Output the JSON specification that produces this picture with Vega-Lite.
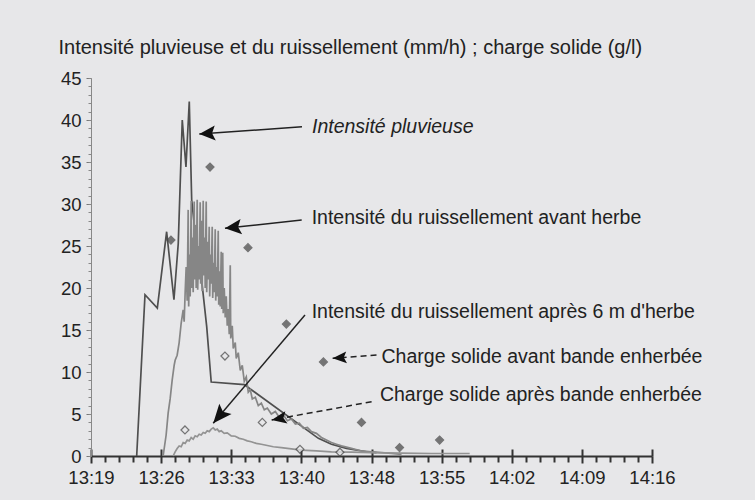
{
  "$schema": "https://vega.github.io/schema/vega-lite/v6.json",
  "width": 561,
  "height": 378,
  "autosize": "none",
  "padding": {"left": 91, "top": 78, "right": 103, "bottom": 44},
  "background": "#e7e7e9",
  "config": {
    "view": {"stroke": null},
    "font": "Liberation Sans",
    "axis": {"grid": false, "labelFont": "Liberation Sans", "titleFont": "Liberation Sans", "labelColor": "#222222", "titleColor": "#222222"}
  },
  "datasets": {
    "series": [
      {"t": 4.56, "v": 0, "s": "pluie"},
      {"t": 5.39, "v": 19.2, "s": "pluie"},
      {"t": 6.62, "v": 17.6, "s": "pluie"},
      {"t": 7.55, "v": 26.7, "s": "pluie"},
      {"t": 8.28, "v": 18.6, "s": "pluie"},
      {"t": 8.71, "v": 25.3, "s": "pluie"},
      {"t": 9.11, "v": 40.0, "s": "pluie"},
      {"t": 9.48, "v": 34.4, "s": "pluie"},
      {"t": 9.81, "v": 42.2, "s": "pluie"},
      {"t": 10.05, "v": 30.5, "s": "pluie"},
      {"t": 10.4, "v": 26.5, "s": "pluie"},
      {"t": 10.9, "v": 22.5, "s": "pluie"},
      {"t": 11.55, "v": 15.4, "s": "pluie"},
      {"t": 12.0, "v": 8.8, "s": "pluie"},
      {"t": 15.3, "v": 8.5, "s": "pluie"},
      {"t": 22.7, "v": 2.1, "s": "pluie"},
      {"t": 24.0, "v": 1.4, "s": "pluie"},
      {"t": 25.5, "v": 0.9, "s": "pluie"},
      {"t": 27.8, "v": 0.45, "s": "pluie"},
      {"t": 28.5, "v": 0.4, "s": "pluie"},

      {"t": 7.2, "v": 0, "s": "avant"},
      {"t": 7.5, "v": 2.5, "s": "avant"},
      {"t": 7.7, "v": 5.1, "s": "avant"},
      {"t": 7.9, "v": 6.8, "s": "avant"},
      {"t": 8.1, "v": 9.0, "s": "avant"},
      {"t": 8.3, "v": 10.8, "s": "avant"},
      {"t": 8.4, "v": 11.4, "s": "avant"},
      {"t": 8.6, "v": 12.0, "s": "avant"},
      {"t": 8.8, "v": 13.5, "s": "avant"},
      {"t": 9.0, "v": 15.8, "s": "avant"},
      {"t": 9.2, "v": 17.4, "s": "avant"},
      {"t": 9.3, "v": 16.0, "s": "avant"},
      {"t": 9.4, "v": 19.5, "s": "avant"},
      {"t": 9.5, "v": 22.5, "s": "avant"},
      {"t": 9.6, "v": 18.5, "s": "avant"},
      {"t": 9.7, "v": 29.3, "s": "avant"},
      {"t": 9.75, "v": 17.8, "s": "avant"},
      {"t": 9.85, "v": 24.0, "s": "avant"},
      {"t": 9.9, "v": 19.0, "s": "avant"},
      {"t": 10.0, "v": 30.4, "s": "avant"},
      {"t": 10.05, "v": 20.0, "s": "avant"},
      {"t": 10.15, "v": 26.0, "s": "avant"},
      {"t": 10.2, "v": 19.5, "s": "avant"},
      {"t": 10.3, "v": 30.3, "s": "avant"},
      {"t": 10.35, "v": 21.0, "s": "avant"},
      {"t": 10.45, "v": 27.5, "s": "avant"},
      {"t": 10.5, "v": 20.0, "s": "avant"},
      {"t": 10.6, "v": 30.5, "s": "avant"},
      {"t": 10.65, "v": 19.8, "s": "avant"},
      {"t": 10.75, "v": 25.0, "s": "avant"},
      {"t": 10.8, "v": 21.0, "s": "avant"},
      {"t": 10.9, "v": 30.2, "s": "avant"},
      {"t": 10.95, "v": 20.5, "s": "avant"},
      {"t": 11.05, "v": 28.0, "s": "avant"},
      {"t": 11.1, "v": 19.6, "s": "avant"},
      {"t": 11.2, "v": 30.4, "s": "avant"},
      {"t": 11.25, "v": 21.5, "s": "avant"},
      {"t": 11.35, "v": 26.0, "s": "avant"},
      {"t": 11.4, "v": 20.0, "s": "avant"},
      {"t": 11.5, "v": 30.3, "s": "avant"},
      {"t": 11.55, "v": 19.5, "s": "avant"},
      {"t": 11.65, "v": 25.5, "s": "avant"},
      {"t": 11.7, "v": 21.0, "s": "avant"},
      {"t": 11.8, "v": 27.3, "s": "avant"},
      {"t": 11.85, "v": 19.0, "s": "avant"},
      {"t": 11.95, "v": 24.0, "s": "avant"},
      {"t": 12.0, "v": 20.5, "s": "avant"},
      {"t": 12.1, "v": 27.3, "s": "avant"},
      {"t": 12.15, "v": 18.8, "s": "avant"},
      {"t": 12.25, "v": 23.0, "s": "avant"},
      {"t": 12.3, "v": 19.5, "s": "avant"},
      {"t": 12.4, "v": 27.0, "s": "avant"},
      {"t": 12.45, "v": 18.5, "s": "avant"},
      {"t": 12.55, "v": 22.5, "s": "avant"},
      {"t": 12.6, "v": 19.0, "s": "avant"},
      {"t": 12.7, "v": 26.8, "s": "avant"},
      {"t": 12.75, "v": 18.0, "s": "avant"},
      {"t": 12.85, "v": 22.0, "s": "avant"},
      {"t": 12.9, "v": 17.8, "s": "avant"},
      {"t": 13.0, "v": 24.3, "s": "avant"},
      {"t": 13.05, "v": 17.5, "s": "avant"},
      {"t": 13.15, "v": 24.2, "s": "avant"},
      {"t": 13.2, "v": 17.0, "s": "avant"},
      {"t": 13.3, "v": 20.0, "s": "avant"},
      {"t": 13.4, "v": 16.5, "s": "avant"},
      {"t": 13.5, "v": 19.0, "s": "avant"},
      {"t": 13.6, "v": 15.5, "s": "avant"},
      {"t": 13.7, "v": 17.5, "s": "avant"},
      {"t": 13.8, "v": 14.5, "s": "avant"},
      {"t": 13.9, "v": 22.7, "s": "avant"},
      {"t": 13.95, "v": 14.0, "s": "avant"},
      {"t": 14.1, "v": 15.5, "s": "avant"},
      {"t": 14.2, "v": 12.8, "s": "avant"},
      {"t": 14.4, "v": 13.5, "s": "avant"},
      {"t": 14.5, "v": 11.6, "s": "avant"},
      {"t": 14.7, "v": 12.3, "s": "avant"},
      {"t": 14.9, "v": 10.2, "s": "avant"},
      {"t": 15.1, "v": 10.8, "s": "avant"},
      {"t": 15.3, "v": 8.9, "s": "avant"},
      {"t": 15.5, "v": 9.4, "s": "avant"},
      {"t": 15.7, "v": 7.6, "s": "avant"},
      {"t": 15.9, "v": 7.9, "s": "avant"},
      {"t": 16.1, "v": 6.8, "s": "avant"},
      {"t": 16.4, "v": 7.0, "s": "avant"},
      {"t": 16.7, "v": 6.0, "s": "avant"},
      {"t": 17.0, "v": 6.3, "s": "avant"},
      {"t": 17.3, "v": 5.5, "s": "avant"},
      {"t": 17.6, "v": 5.7, "s": "avant"},
      {"t": 18.0, "v": 5.0, "s": "avant"},
      {"t": 18.4, "v": 5.3, "s": "avant"},
      {"t": 18.8, "v": 4.6, "s": "avant"},
      {"t": 19.2, "v": 4.9, "s": "avant"},
      {"t": 19.6, "v": 4.2, "s": "avant"},
      {"t": 20.0, "v": 4.4, "s": "avant"},
      {"t": 20.4, "v": 3.8, "s": "avant"},
      {"t": 20.8, "v": 3.9, "s": "avant"},
      {"t": 21.2, "v": 3.3, "s": "avant"},
      {"t": 21.6, "v": 3.4, "s": "avant"},
      {"t": 22.0, "v": 2.9, "s": "avant"},
      {"t": 22.5, "v": 2.7, "s": "avant"},
      {"t": 23.0, "v": 2.2, "s": "avant"},
      {"t": 23.5, "v": 1.9, "s": "avant"},
      {"t": 24.0, "v": 1.6, "s": "avant"},
      {"t": 24.5, "v": 1.4, "s": "avant"},
      {"t": 25.0, "v": 1.2, "s": "avant"},
      {"t": 26.0, "v": 0.9, "s": "avant"},
      {"t": 27.0, "v": 0.6, "s": "avant"},
      {"t": 28.0, "v": 0.5, "s": "avant"},
      {"t": 29.0, "v": 0.4, "s": "avant"},
      {"t": 30.0, "v": 0.3, "s": "avant"},
      {"t": 31.0, "v": 0.2, "s": "avant"},

      {"t": 8.2, "v": 0, "s": "apres"},
      {"t": 8.4, "v": 0.5, "s": "apres"},
      {"t": 8.6, "v": 0.9, "s": "apres"},
      {"t": 8.8, "v": 1.2, "s": "apres"},
      {"t": 9.0, "v": 1.1, "s": "apres"},
      {"t": 9.2, "v": 1.6, "s": "apres"},
      {"t": 9.4, "v": 1.5, "s": "apres"},
      {"t": 9.6, "v": 1.9, "s": "apres"},
      {"t": 9.8, "v": 1.8, "s": "apres"},
      {"t": 10.0, "v": 2.2, "s": "apres"},
      {"t": 10.2, "v": 2.0, "s": "apres"},
      {"t": 10.4, "v": 2.4, "s": "apres"},
      {"t": 10.6, "v": 2.3, "s": "apres"},
      {"t": 10.8, "v": 2.6, "s": "apres"},
      {"t": 11.0, "v": 2.5, "s": "apres"},
      {"t": 11.2, "v": 2.8, "s": "apres"},
      {"t": 11.4, "v": 2.7, "s": "apres"},
      {"t": 11.6, "v": 3.0, "s": "apres"},
      {"t": 11.8, "v": 2.9, "s": "apres"},
      {"t": 12.0, "v": 3.2, "s": "apres"},
      {"t": 12.2, "v": 3.35, "s": "apres"},
      {"t": 12.4, "v": 3.1, "s": "apres"},
      {"t": 12.6, "v": 3.2, "s": "apres"},
      {"t": 12.8, "v": 2.9, "s": "apres"},
      {"t": 13.0, "v": 3.0, "s": "apres"},
      {"t": 13.3, "v": 2.7, "s": "apres"},
      {"t": 13.6, "v": 2.75, "s": "apres"},
      {"t": 14.0, "v": 2.4, "s": "apres"},
      {"t": 14.4, "v": 2.35, "s": "apres"},
      {"t": 14.8, "v": 2.1, "s": "apres"},
      {"t": 15.2, "v": 2.0, "s": "apres"},
      {"t": 15.6, "v": 1.8, "s": "apres"},
      {"t": 16.0, "v": 1.7, "s": "apres"},
      {"t": 16.5, "v": 1.5, "s": "apres"},
      {"t": 17.0, "v": 1.4, "s": "apres"},
      {"t": 17.6, "v": 1.25, "s": "apres"},
      {"t": 18.2, "v": 1.1, "s": "apres"},
      {"t": 19.0, "v": 1.0, "s": "apres"},
      {"t": 20.0, "v": 0.85, "s": "apres"},
      {"t": 21.0, "v": 0.7, "s": "apres"},
      {"t": 22.5, "v": 0.6, "s": "apres"},
      {"t": 24.0, "v": 0.5, "s": "apres"},
      {"t": 26.0, "v": 0.45, "s": "apres"},
      {"t": 28.0, "v": 0.4, "s": "apres"},
      {"t": 31.0, "v": 0.35, "s": "apres"},
      {"t": 34.0, "v": 0.3, "s": "apres"},
      {"t": 37.8, "v": 0.3, "s": "apres"}
    ],
    "charge": [
      {"t": 7.98, "v": 25.7, "s": "avant"},
      {"t": 11.88, "v": 34.4, "s": "avant"},
      {"t": 15.67, "v": 24.8, "s": "avant"},
      {"t": 19.5, "v": 15.7, "s": "avant"},
      {"t": 23.2, "v": 11.2, "s": "avant"},
      {"t": 27.0, "v": 4.0, "s": "avant"},
      {"t": 30.8, "v": 1.0, "s": "avant"},
      {"t": 34.8, "v": 1.9, "s": "avant"},
      {"t": 9.38, "v": 3.1, "s": "apres"},
      {"t": 13.37, "v": 11.9, "s": "apres"},
      {"t": 17.1, "v": 4.0, "s": "apres"},
      {"t": 20.86, "v": 0.8, "s": "apres"},
      {"t": 24.85, "v": 0.45, "s": "apres"}
    ],
    "notes": [
      {"id": 1, "label": "Intensité pluvieuse", "tx": 22.06, "ty": 39.17, "ax": 21.06, "ay": 39.2, "bx": 10.81, "by": 38.33},
      {"id": 2, "label": "Intensité du ruissellement avant herbe", "tx": 22.03, "ty": 28.3, "ax": 21.03, "ay": 28.1, "bx": 13.37, "by": 27.1},
      {"id": 3, "label": "Intensité du ruissellement après 6 m d'herbe", "tx": 22.03, "ty": 17.18, "ax": 21.36, "ay": 16.79, "bx": 12.2, "by": 3.89},
      {"id": 4, "label": "Charge solide avant bande enherbée", "tx": 29.0, "ty": 11.82, "ax": 28.5, "ay": 12.02, "bx": 24.12, "by": 11.63},
      {"id": 5, "label": "Charge solide après bande enherbée", "tx": 28.84, "ty": 7.26, "ax": 28.01, "ay": 6.46, "bx": 18.03, "by": 4.29}
    ]
  },
  "resolve": {"axis": {"x": "independent", "y": "independent"}},
  "layer": [
    {
      "data": {"name": "series"},
      "mark": {"type": "line", "strokeWidth": 1.7, "interpolate": "linear"},
      "encoding": {
        "x": {"field": "t", "type": "quantitative", "scale": {"domain": [0, 56], "nice": false, "zero": false},
          "axis": {"orient": "bottom", "values": [0, 7, 14, 21, 28, 35, 42, 49, 56], "labelExpr": "['13:19','13:26','13:33','13:40','13:48','13:55','14:02','14:09','14:16'][round(datum.value/7)]",
            "title": null, "tickSize": 7, "tickWidth": 2, "tickColor": "#333333", "domainColor": "#333333", "domainWidth": 2.2,
            "labelFontSize": 18.5, "labelPadding": 5, "labelFlush": false, "labelOverlap": false}},
        "y": {"field": "v", "type": "quantitative", "scale": {"domain": [0, 45], "nice": false},
          "axis": {"orient": "left", "values": [0, 5, 10, 15, 20, 25, 30, 35, 40, 45], "tickSize": 5, "tickColor": "#777777", "domainColor": "#888888", "domainWidth": 1,
            "labelFontSize": 18.5, "labelPadding": 5, "labelFlush": false,
            "title": "Intensité pluvieuse et du ruissellement (mm/h) ; charge solide (g/l)",
            "titleAngle": 0, "titleAlign": "left", "titleBaseline": "middle", "titleX": -33, "titleY": -31,
            "titleFontSize": 20, "titleFontWeight": "normal"}},
        "color": {"field": "s", "type": "nominal", "scale": {"domain": ["avant", "apres", "pluie"], "range": ["#868686", "#939393", "#4f4f4f"]}, "legend": null}
      }
    },
    {
      "data": {"name": "charge"},
      "mark": {"type": "point", "shape": "diamond", "size": 64, "filled": true, "stroke": "#444444", "strokeWidth": 1.2},
      "encoding": {
        "x": {"field": "t", "type": "quantitative",
          "axis": {"orient": "bottom", "values": [0, 7, 14, 21, 28, 35, 42, 49, 56], "tickSize": -7, "tickWidth": 2, "tickColor": "#333333", "domain": false, "labels": false, "title": null}},
        "y": {"field": "v", "type": "quantitative",
          "axis": {"orient": "left", "values": [0, 1, 2, 3, 4, 5, 6, 7, 8, 9, 10, 11, 12, 13, 14, 15, 16, 17, 18, 19, 20, 21, 22, 23, 24, 25, 26, 27, 28, 29, 30, 31, 32, 33, 34, 35, 36, 37, 38, 39, 40, 41, 42, 43, 44, 45], "tickSize": 3, "tickColor": "#888888", "domain": false, "labels": false, "title": null}},
        "fill": {"field": "s", "type": "nominal", "scale": {"domain": ["avant", "apres"], "range": ["#444444", "#e7e7e9"]}, "legend": null}
      }
    },
    {
      "data": {"name": "notes"},
      "transform": [{"filter": "datum.id <= 3"}],
      "mark": {"type": "rule", "color": "#222222", "strokeWidth": 1.5},
      "encoding": {
        "x": {"field": "ax", "type": "quantitative",
          "axis": {"orient": "bottom", "values": [1.4, 2.8, 4.2, 5.6, 8.4, 9.8, 11.2, 12.6, 15.4, 16.8, 18.2, 19.6, 22.4, 23.8, 25.2, 26.6, 29.4, 30.8, 32.2, 33.6, 36.4, 37.8, 39.2, 40.6, 43.4, 44.8, 46.2, 47.6, 50.4, 51.8, 53.2, 54.6], "tickSize": 6, "tickWidth": 2, "tickColor": "#333333", "domain": false, "labels": false, "title": null}},
        "y": {"field": "ay", "type": "quantitative", "axis": null},
        "x2": {"field": "bx"},
        "y2": {"field": "by"}
      }
    },
    {
      "data": {"name": "notes"},
      "transform": [{"filter": "datum.id >= 4"}],
      "mark": {"type": "rule", "color": "#222222", "strokeWidth": 1.5, "strokeDash": [6, 4]},
      "encoding": {
        "x": {"field": "ax", "type": "quantitative", "axis": null},
        "y": {"field": "ay", "type": "quantitative", "axis": null},
        "x2": {"field": "bx"},
        "y2": {"field": "by"}
      }
    },
    {
      "data": {"name": "notes"},
      "transform": [{"filter": "datum.id == 1"}],
      "mark": {"type": "point", "shape": "M0,0L1,-0.47L0.8,0L1,0.47Z", "size": 1024, "angle": -4, "filled": true, "color": "#111111", "opacity": 1},
      "encoding": {"x": {"field": "bx", "type": "quantitative", "axis": null}, "y": {"field": "by", "type": "quantitative", "axis": null}}
    },
    {
      "data": {"name": "notes"},
      "transform": [{"filter": "datum.id == 2"}],
      "mark": {"type": "point", "shape": "M0,0L1,-0.47L0.8,0L1,0.47Z", "size": 1089, "angle": -6, "filled": true, "color": "#111111", "opacity": 1},
      "encoding": {"x": {"field": "bx", "type": "quantitative", "axis": null}, "y": {"field": "by", "type": "quantitative", "axis": null}}
    },
    {
      "data": {"name": "notes"},
      "transform": [{"filter": "datum.id == 3"}],
      "mark": {"type": "point", "shape": "M0,0L1,-0.42L0.8,0L1,0.42Z", "size": 1444, "angle": -50, "filled": true, "color": "#111111", "opacity": 1},
      "encoding": {"x": {"field": "bx", "type": "quantitative", "axis": null}, "y": {"field": "by", "type": "quantitative", "axis": null}}
    },
    {
      "data": {"name": "notes"},
      "transform": [{"filter": "datum.id == 4"}],
      "mark": {"type": "point", "shape": "M0,0L1,-0.42L0.8,0L1,0.42Z", "size": 784, "angle": -4, "filled": true, "color": "#111111", "opacity": 1},
      "encoding": {"x": {"field": "bx", "type": "quantitative", "axis": null}, "y": {"field": "by", "type": "quantitative", "axis": null}}
    },
    {
      "data": {"name": "notes"},
      "transform": [{"filter": "datum.id == 5"}],
      "mark": {"type": "point", "shape": "M0,0L1,-0.42L0.8,0L1,0.42Z", "size": 900, "angle": -10, "filled": true, "color": "#111111", "opacity": 1},
      "encoding": {"x": {"field": "bx", "type": "quantitative", "axis": null}, "y": {"field": "by", "type": "quantitative", "axis": null}}
    },
    {
      "data": {"name": "notes"},
      "transform": [{"filter": "datum.id >= 2"}],
      "mark": {"type": "text", "align": "left", "baseline": "middle", "fontSize": 19.5, "font": "Liberation Sans", "color": "#222222"},
      "encoding": {"x": {"field": "tx", "type": "quantitative", "axis": null}, "y": {"field": "ty", "type": "quantitative", "axis": null}, "text": {"field": "label"}}
    },
    {
      "data": {"name": "notes"},
      "transform": [{"filter": "datum.id == 1"}],
      "mark": {"type": "text", "align": "left", "baseline": "middle", "fontSize": 19.5, "font": "Liberation Sans", "fontStyle": "italic", "color": "#222222"},
      "encoding": {"x": {"field": "tx", "type": "quantitative", "axis": null}, "y": {"field": "ty", "type": "quantitative", "axis": null}, "text": {"field": "label"}}
    }
  ]
}
